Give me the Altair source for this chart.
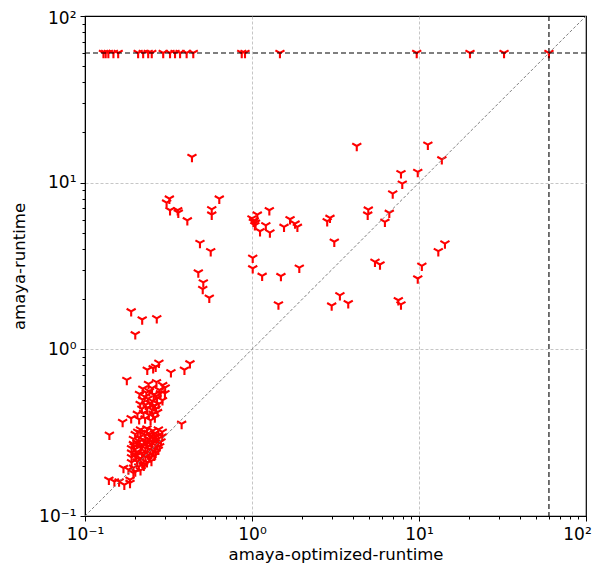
import altair as alt
import pandas as pd

TIMEOUT = 60.0

# runs that hit the timeout on amaya-runtime (y = 60)
timeout_x = [0.129, 0.133, 0.138, 0.148, 0.158, 0.208, 0.223, 0.239, 0.251,
             0.294, 0.323, 0.346, 0.371, 0.406, 0.445, 0.868, 0.908, 1.47,
             9.69, 20.2, 32.3, 60.0]

# scattered mid-range points
mid_x = [0.437, 0.32, 0.308, 0.323, 0.359, 0.362, 0.41, 0.637, 0.574, 0.574,
         0.488, 0.566, 0.477, 0.511, 0.507, 0.555,
         1.27, 1.076, 1.02, 1.04, 1.03, 1.0, 1.05, 1.21, 1.117, 1.28, 1.555,
         1.69, 1.81, 1.87, 2.93, 2.82, 3.11, 1.01, 1.01, 1.15, 1.49, 1.92, 1.44,
         3.36, 3.0, 3.77, 4.24, 11.3, 13.7, 7.8, 9.83, 7.94, 6.96, 4.97, 4.93,
         6.64, 6.25, 5.45, 5.84, 10.4, 9.83, 14.3, 13.05, 7.52, 7.8]
mid_y = [14.25, 8.02, 7.59, 6.83, 6.83, 6.61, 5.94, 8.02, 6.92, 6.43,
         4.35, 3.88, 2.89, 2.52, 2.30, 2.04,
         6.83, 6.43, 5.82, 5.55, 5.94, 6.1, 5.75, 5.55, 5.11, 5.02, 5.43,
         6.03, 5.68, 5.43, 6.15, 5.87, 4.42, 3.54, 3.06, 2.76, 2.75, 3.09, 1.86,
         2.11, 1.83, 1.89, 16.6, 16.9, 13.8, 11.4, 11.6, 9.86, 8.6, 6.89, 6.43,
         6.59, 5.82, 3.35, 3.23, 3.17, 2.66, 4.31, 3.88, 1.97, 1.86]

# scattered low-range points
low_x = [0.189, 0.22, 0.269, 0.2, 0.277, 0.265, 0.256, 0.236, 0.327, 0.425,
         0.394, 0.178, 0.301, 0.168, 0.189, 0.379, 0.14, 0.139, 0.15, 0.16,
         0.172, 0.186, 0.186, 0.17, 0.182, 0.195]
low_y = [1.69, 1.51, 1.535, 1.23, 0.83, 0.787, 0.77, 0.754, 0.728, 0.824,
         0.754, 0.655, 0.545, 0.366, 0.386, 0.357, 0.307, 0.165, 0.161, 0.161,
         0.154, 0.158, 0.165, 0.194, 0.19, 0.181]

# upper part of the dense cluster
upper_x = [0.24, 0.268, 0.292, 0.222, 0.252, 0.279, 0.302, 0.212, 0.233, 0.258,
           0.283, 0.221, 0.238, 0.252, 0.27, 0.291, 0.214, 0.231, 0.246, 0.262,
           0.276, 0.219, 0.236, 0.251, 0.266, 0.206, 0.224, 0.241, 0.256, 0.272,
           0.211, 0.229, 0.247, 0.262, 0.228, 0.257, 0.243, 0.268]
upper_y = [0.62, 0.635, 0.61, 0.58, 0.585, 0.57, 0.59, 0.54, 0.55, 0.535,
           0.545, 0.50, 0.505, 0.49, 0.51, 0.495, 0.47, 0.465, 0.475, 0.46,
           0.47, 0.44, 0.445, 0.435, 0.44, 0.41, 0.415, 0.405, 0.41, 0.42,
           0.38, 0.385, 0.375, 0.39, 0.52, 0.455, 0.56, 0.525]

# lower, saturated part of the dense cluster
blob_x = [0.215, 0.235, 0.255, 0.275, 0.29,
          0.2, 0.215, 0.23, 0.245, 0.26, 0.275, 0.29,
          0.195, 0.21, 0.225, 0.24, 0.255, 0.27, 0.285,
          0.195, 0.205, 0.22, 0.235, 0.25, 0.265, 0.28,
          0.19, 0.2, 0.215, 0.23, 0.245, 0.26, 0.275,
          0.19, 0.205, 0.22, 0.235, 0.25, 0.265,
          0.19, 0.2, 0.215, 0.23, 0.245, 0.26,
          0.19, 0.205, 0.22, 0.235, 0.25,
          0.195, 0.21, 0.225,
          0.2, 0.215,
          0.207, 0.227, 0.247, 0.267, 0.212, 0.232, 0.252, 0.272,
          0.197, 0.217, 0.237, 0.257, 0.202, 0.222, 0.242, 0.212, 0.228]
blob_y = [0.33, 0.335, 0.325, 0.33, 0.32,
          0.31, 0.315, 0.305, 0.31, 0.312, 0.305, 0.30,
          0.29, 0.295, 0.285, 0.29, 0.292, 0.288, 0.28,
          0.27, 0.275, 0.268, 0.272, 0.27, 0.265, 0.262,
          0.255, 0.252, 0.258, 0.255, 0.25, 0.255, 0.25,
          0.24, 0.242, 0.238, 0.24, 0.236, 0.24,
          0.225, 0.228, 0.222, 0.226, 0.224, 0.23,
          0.21, 0.212, 0.208, 0.21, 0.214,
          0.195, 0.198, 0.2,
          0.185, 0.188,
          0.32, 0.32, 0.30, 0.30, 0.28, 0.28, 0.28, 0.275,
          0.262, 0.262, 0.262, 0.245, 0.232, 0.232, 0.232, 0.218, 0.205]

points = pd.DataFrame({
    "x": timeout_x + mid_x + low_x + upper_x + blob_x,
    "y": [TIMEOUT] * len(timeout_x) + mid_y + low_y + upper_y + blob_y,
})

diag = pd.DataFrame({"x": [0.1, 100.0], "y": [0.1, 100.0]})
tline = pd.DataFrame({"t": [TIMEOUT]})

majors = [0.1, 1, 10, 100]
minors = [0.2, 0.3, 0.4, 0.5, 0.6, 0.7, 0.8, 0.9,
          2, 3, 4, 5, 6, 7, 8, 9,
          20, 30, 40, 50, 60, 70, 80, 90]
tick_values = sorted(majors + minors)

major_test = "datum.value == 0.1 || datum.value == 1 || datum.value == 10 || datum.value == 100"
inner_major_test = "datum.value == 1 || datum.value == 10"
label_expr = ("datum.value == 0.1 ? '10\u207b\u00b9' : datum.value == 1 ? '10\u2070' : "
              "datum.value == 10 ? '10\u00b9' : datum.value == 100 ? '10\u00b2' : ''")

FONT = "DejaVu Sans"


def make_axis(title, title_pad, label_pad, last_shift=0):
    extra = {}
    if last_shift:
        extra["labelOffset"] = {"condition": {"test": "datum.value == 100", "value": last_shift}, "value": 0}
    return alt.Axis(
        title=title,
        values=tick_values,
        labelExpr=label_expr,
        tickSize={"condition": {"test": major_test, "value": 5}, "value": 3},
        gridOpacity={"condition": {"test": inner_major_test, "value": 1}, "value": 0},
        grid=True,
        gridColor="#b8b8b8",
        gridDash=[3, 2],
        gridWidth=0.8,
        domainColor="black",
        domainWidth=1,
        tickColor="black",
        tickWidth=1,
        labelColor="black",
        labelFont=FONT,
        labelFontSize=17,
        titleFont=FONT,
        titleFontSize=16.5,
        titleFontWeight="normal",
        titleColor="black",
        labelOverlap=False,
        labelFlush=False,
        labelBound=False,
        labelPadding=label_pad,
        titlePadding=title_pad,
        **extra,
    )


xscale = alt.Scale(type="log", domain=[0.1, 100], nice=False)
yscale = alt.Scale(type="log", domain=[0.1, 100], nice=False)

tri_down = "M0,0L0,1M0,0L-0.866,-0.5M0,0L0.866,-0.5"

pts = alt.Chart(points).mark_point(
    shape=tri_down, filled=False, stroke="red", color="red",
    strokeWidth=2.1, size=110, opacity=1,
).encode(
    x=alt.X("x:Q", scale=xscale, axis=make_axis("amaya-optimized-runtime", 4, 5, -9)),
    y=alt.Y("y:Q", scale=yscale, axis=make_axis("amaya-runtime", 11, 4, 2)),
)

diag_line = alt.Chart(diag).mark_line(
    color="#808080", strokeDash=[3, 2], strokeWidth=1
).encode(x=alt.X("x:Q", scale=xscale), y=alt.Y("y:Q", scale=yscale))

vrule = alt.Chart(tline).mark_rule(
    color="black", strokeDash=[5, 3], strokeWidth=1.1
).encode(x=alt.X("t:Q", scale=xscale))

hrule = alt.Chart(tline).mark_rule(
    color="black", strokeDash=[5, 3], strokeWidth=1.1
).encode(y=alt.Y("t:Q", scale=yscale))

chart = alt.layer(pts, diag_line, vrule, hrule).properties(
    width=501,
    height=500,
    autosize=alt.AutoSizeParams(type="none"),
    padding={"left": 77, "top": 8, "right": 6, "bottom": 48},
).configure_view(
    stroke="black", strokeWidth=1.2
)

chart.save("out.html", embed_options={"renderer": "svg", "actions": False})
